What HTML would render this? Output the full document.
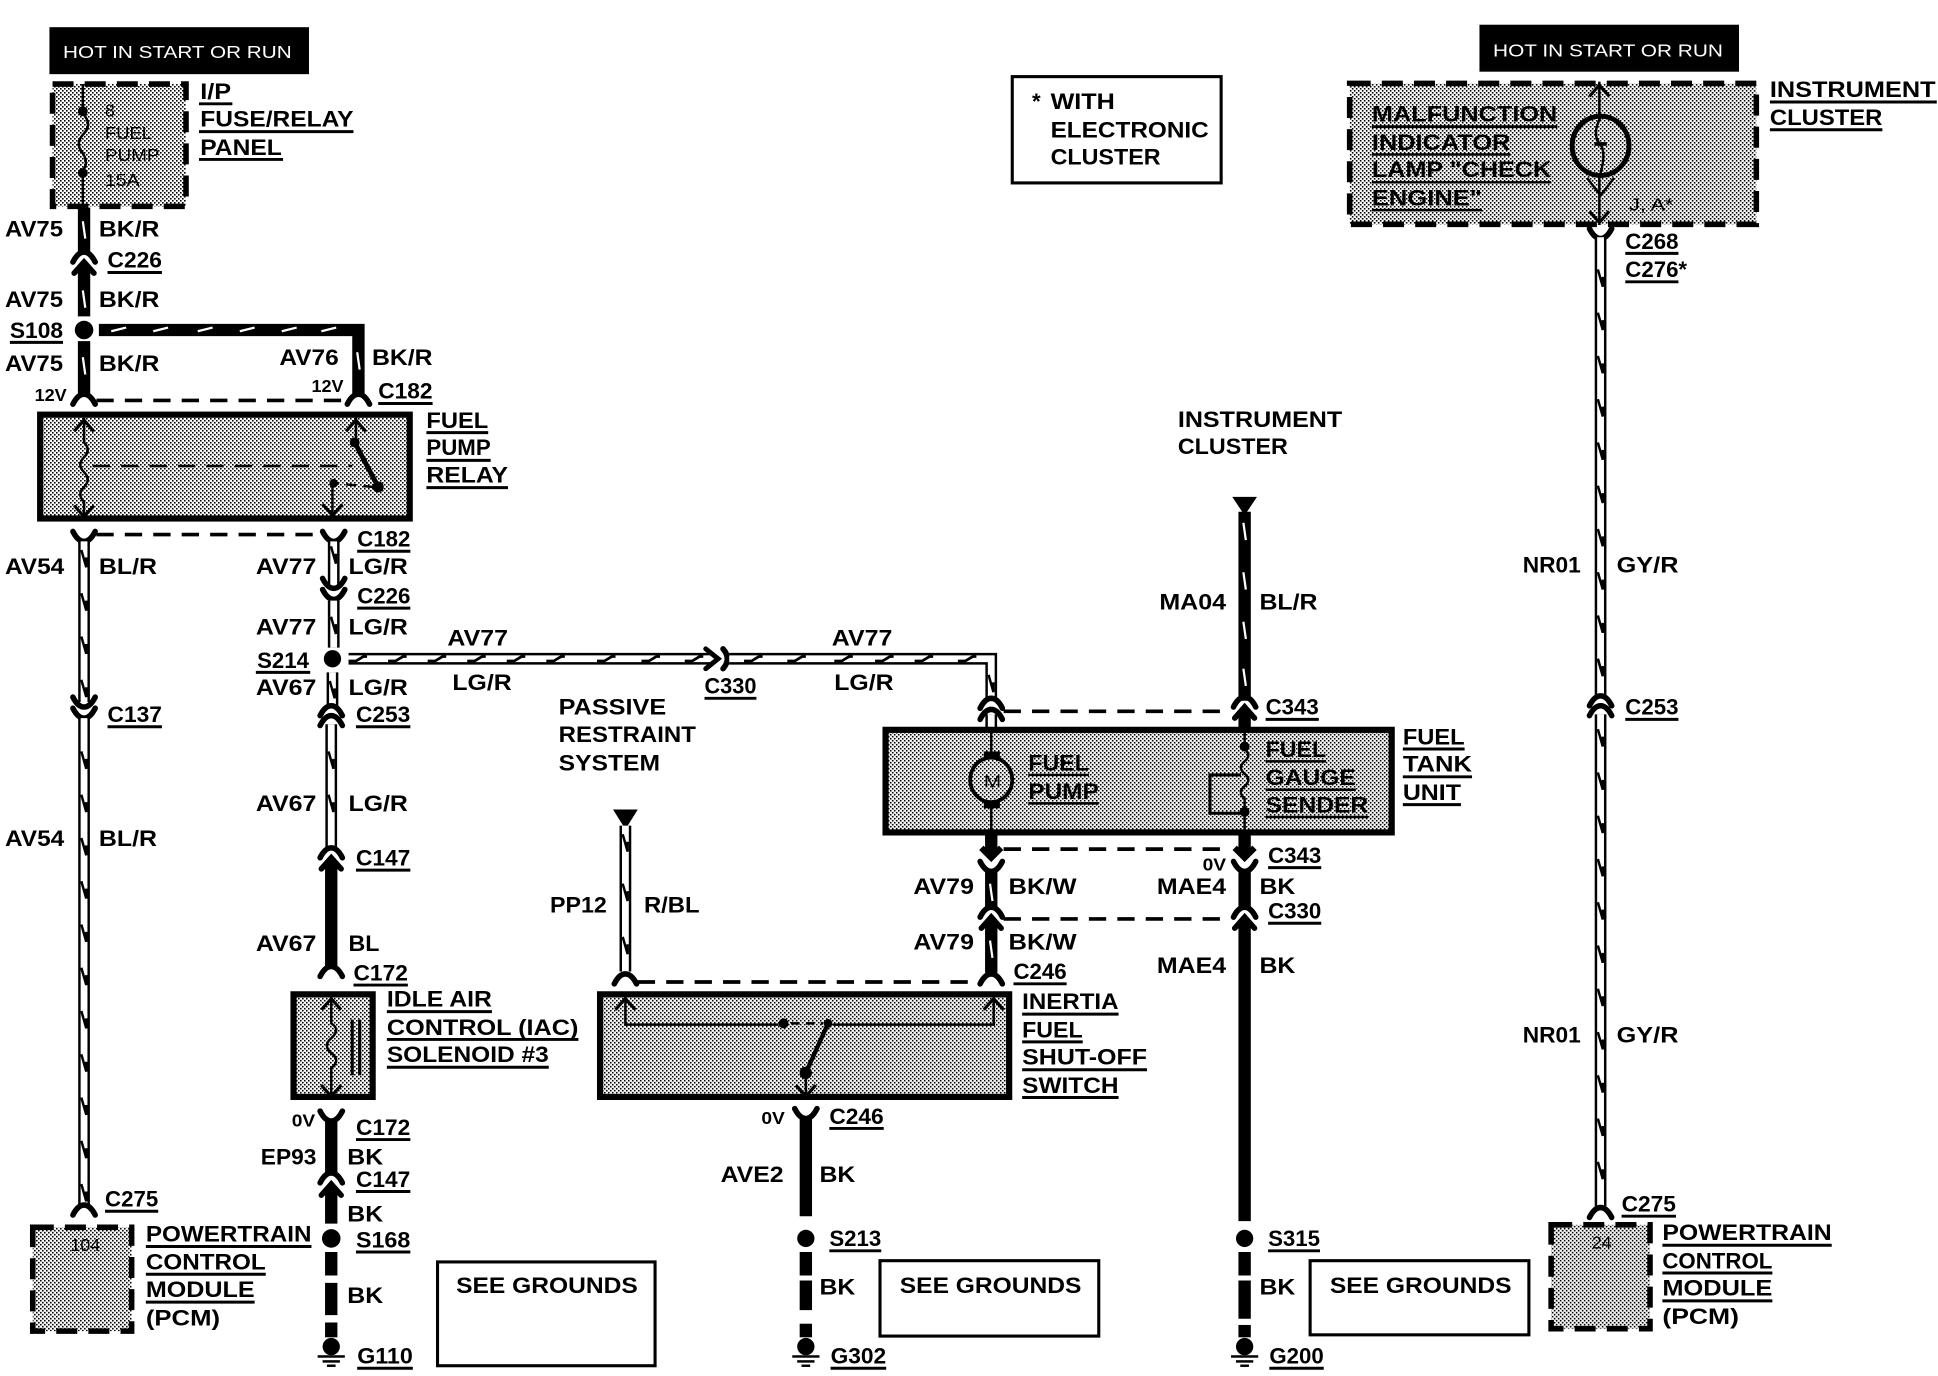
<!DOCTYPE html>
<html><head><meta charset="utf-8"><style>
html,body{margin:0;padding:0;background:#fff}
svg{display:block}
text{font-family:"Liberation Sans",sans-serif;font-weight:700;font-size:18px;fill:#000;transform:translateY(.3px)}
.s{font-size:14px}
.r{font-weight:400;font-size:14px}
.w{fill:#fff;font-weight:400;font-size:14px}
.u{stroke:#000;stroke-width:2.4}
.k{stroke:#000;stroke-width:10;fill:none}
.h1{stroke:#000;stroke-width:9.5;fill:none}
.h2{stroke:#fff;stroke-width:5.5;fill:none}
.d{stroke:#000;stroke-width:3;fill:none;stroke-dasharray:14 9}
.l{stroke:#000;stroke-width:2;fill:none}
.b{stroke:#000;stroke-width:5;fill:url(#st)}
.db{stroke:#000;stroke-width:4.5;fill:url(#st);stroke-dasharray:17 9}
</style></head><body>
<svg width="1938" height="1376" viewBox="0 0 1568 1113.3" xmlns="http://www.w3.org/2000/svg">
<defs>
<pattern id="st" width="3.236" height="3.236" patternUnits="userSpaceOnUse"><rect width="3.236" height="3.236" fill="#fff"/><rect width="1.3" height="1.3" fill="#000"/><rect x="1.618" y="1.618" width="1.3" height="1.3" fill="#000"/></pattern>
<path id="arch" d="M-9,5 Q-5,-3 0,-3 Q5,-3 9,5" fill="none" stroke="#000" stroke-width="4.5" stroke-linecap="round"/>
<path id="cup" d="M-9,-5 Q-5,3 0,3 Q5,3 9,-5" fill="none" stroke="#000" stroke-width="4.5" stroke-linecap="round"/>
<path id="head" d="M-8,6 L0,-3 L8,6" fill="none" stroke="#000" stroke-width="4.5" stroke-linecap="round"/>
<path id="vee" d="M-8,-5 L0,4 L8,-5" fill="none" stroke="#000" stroke-width="2.5"/>
<path id="up" d="M-8,5 L0,-4 L8,5" fill="none" stroke="#000" stroke-width="2.5"/>
<path id="tv" d="M-2.200,-7 L1.800,7 L1.800,-1" fill="none" stroke="#000" stroke-width="2"/>
<path id="th" d="M-7,1.800 H-1 L5,-1.800 H8" fill="none" stroke="#000" stroke-width="2.200"/>
<path id="wt" d="M-1,-7 L1,7" stroke="#fff" stroke-width="1.800"/>
<g id="tv5"><use href="#tv" y="0"/><use href="#tv" y="35"/><use href="#tv" y="70"/><use href="#tv" y="105"/><use href="#tv" y="140"/></g>
<g id="gnd"><circle cx="0" cy="-1.500" r="7"/><rect x="-3" y="-1" width="6" height="6"/><rect x="-11" y="5.500" width="22" height="2"/><rect x="-7" y="9.500" width="14" height="2"/><rect x="-3.500" y="13" width="7" height="2"/></g>
</defs>

<!-- Top-left power -->
<rect x="40" y="22" width="210" height="38"/>
<text class="w" x="51" y="46.500" textLength="185" lengthAdjust="spacingAndGlyphs">HOT IN START OR RUN</text>
<rect class="db" x="42.500" y="68" width="108" height="99"/>
<path class="l" d="M67,68V88M67,92Q75,100 68,108Q60,116 67,124Q72,132 67,138M67,142V168"/>
<circle cx="67" cy="90" r="4"/><circle cx="67" cy="140" r="4"/>
<text class="r" x="85" y="94" textLength="8" lengthAdjust="spacingAndGlyphs">8</text>
<text class="r" x="85" y="112" textLength="38" lengthAdjust="spacingAndGlyphs">FUEL</text>
<text class="r" x="85" y="130" textLength="44" lengthAdjust="spacingAndGlyphs">PUMP</text>
<text class="r" x="85" y="150" textLength="28" lengthAdjust="spacingAndGlyphs">15A</text>
<text x="162" y="80" textLength="25" lengthAdjust="spacingAndGlyphs">I/P</text><line class="u" x1="161" x2="188" y1="84" y2="84"/>
<text x="162" y="102" textLength="124" lengthAdjust="spacingAndGlyphs">FUSE/RELAY</text><line class="u" x1="161" x2="286" y1="106.500" y2="106.500"/>
<text x="162" y="125" textLength="66" lengthAdjust="spacingAndGlyphs">PANEL</text><line class="u" x1="161" x2="229" y1="129" y2="129"/>

<!-- Left wire x=68 -->
<line class="k" x1="68" x2="68" y1="168" y2="205"/><use href="#wt" x="68" y="186"/>
<use href="#arch" x="68" y="207"/><use href="#head" x="68" y="215"/>
<line class="k" x1="68" x2="68" y1="215" y2="256"/><use href="#wt" x="68" y="242"/>
<circle cx="68" cy="267" r="7.500"/>
<line class="k" x1="68" x2="68" y1="276" y2="320"/><use href="#wt" x="68" y="296"/>
<use href="#arch" x="68" y="322"/>
<path class="k" d="M80,267H290V320"/>
<path d="M90,268L102,265M124,268L136,265M160,268L172,265M194,268L206,265M228,268L240,265M260,268L272,265" stroke="#fff" stroke-width="1.800" fill="none"/>
<use href="#wt" x="290" y="292"/>
<use href="#arch" x="290" y="322"/>
<line class="d" x1="78" x2="280" y1="324" y2="324"/>

<!-- Relay -->
<rect class="b" x="32.500" y="335.500" width="299" height="84"/>
<path class="l" d="M68,338V358Q74,364 68,370Q62,376 68,382Q74,388 68,394Q62,400 68,406V418"/>
<use href="#up" x="68" y="344"/><use href="#vee" x="68" y="414"/>
<line class="l" x1="75" x2="285" y1="377" y2="377" stroke-dasharray="14 9"/>
<path class="l" d="M288,337V358"/><use href="#up" x="288" y="344"/>
<circle cx="287" cy="358" r="4"/><path d="M287,358L306,394" stroke="#000" stroke-width="4"/><circle cx="306" cy="394" r="4.500"/>
<line class="l" x1="302" x2="270" y1="394" y2="391" stroke-dasharray="8 6"/>
<circle cx="270" cy="391" r="3.500"/><line class="l" x1="269" x2="269" y1="391" y2="417"/><use href="#vee" x="269" y="413"/>
<text x="345" y="346" textLength="50" lengthAdjust="spacingAndGlyphs">FUEL</text><line class="u" x1="345" x2="395" y1="350" y2="350"/>
<text x="345" y="368" textLength="52" lengthAdjust="spacingAndGlyphs">PUMP</text><line class="u" x1="345" x2="397" y1="372.500" y2="372.500"/>
<text x="345" y="390" textLength="66" lengthAdjust="spacingAndGlyphs">RELAY</text><line class="u" x1="345" x2="411" y1="394.500" y2="394.500"/>

<!-- AV54 -->
<use href="#cup" x="68" y="435"/><use href="#cup" x="270" y="435"/>
<line class="d" x1="78" x2="260" y1="432.500" y2="432.500"/>
<line class="h1" x1="68" x2="68" y1="438" y2="568"/><line class="h2" x1="68" x2="68" y1="438" y2="568"/>
<use href="#tv" x="68" y="452"/><use href="#tv" x="68" y="487"/><use href="#tv" x="68" y="522"/><use href="#tv" x="68" y="557"/>
<use href="#cup" x="68" y="569"/><use href="#cup" x="68" y="578"/>
<line class="h1" x1="68" x2="68" y1="581" y2="975"/><line class="h2" x1="68" x2="68" y1="581" y2="975"/>
<use href="#tv5" x="68" y="615"/><use href="#tv5" x="68" y="790"/><use href="#tv" x="68" y="965"/>
<use href="#arch" x="68" y="978"/>

<!-- AV77 column -->
<line class="h1" x1="270" x2="270" y1="438" y2="474"/><line class="h2" x1="270" x2="270" y1="438" y2="474"/><use href="#tv" x="270" y="449"/>
<use href="#cup" x="270" y="473"/><use href="#cup" x="270" y="482"/>
<line class="h1" x1="270" x2="270" y1="486" y2="524"/><line class="h2" x1="270" x2="270" y1="486" y2="524"/><use href="#tv" x="270" y="506"/>
<circle cx="269" cy="533" r="7"/>
<line class="h1" x1="269" x2="269" y1="544" y2="572"/><line class="h2" x1="269" x2="269" y1="544" y2="572"/><use href="#tv" x="269" y="558"/>
<use href="#arch" x="268" y="574"/><use href="#arch" x="268" y="582"/>
<line class="h1" x1="268" x2="268" y1="586" y2="686"/><line class="h2" x1="268" x2="268" y1="586" y2="686"/><use href="#tv" x="268" y="615"/><use href="#tv" x="268" y="650"/>
<use href="#arch" x="268" y="689"/><use href="#head" x="268" y="697"/>
<line class="k" x1="268" x2="268" y1="697" y2="782"/>
<use href="#arch" x="268" y="785"/>

<!-- AV77 horizontal -->
<line class="h1" x1="282" x2="578" y1="533" y2="533"/><line class="h2" x1="282" x2="578" y1="533" y2="533"/>
<use href="#th" x="289" y="533"/><use href="#th" x="321" y="533"/><use href="#th" x="353" y="533"/><use href="#th" x="385" y="533"/><use href="#th" x="417" y="533"/><use href="#th" x="449" y="533"/><use href="#th" x="490" y="533"/><use href="#th" x="526" y="533"/><use href="#th" x="561" y="533"/>
<path d="M571,525L581,533L571,541" fill="none" stroke="#000" stroke-width="4" stroke-linecap="round"/>
<path d="M585,525Q592,533 585,541" fill="none" stroke="#000" stroke-width="4.500" stroke-linecap="round"/>
<path class="h1" d="M590,533H802V565"/><path class="h2" d="M590,533H802V565"/>
<use href="#th" x="609" y="533"/><use href="#th" x="644" y="533"/><use href="#th" x="682" y="533"/><use href="#th" x="715" y="533"/><use href="#th" x="747" y="533"/><use href="#th" x="782" y="533"/>
<use href="#tv" x="802" y="553"/>
<use href="#arch" x="802" y="568"/><use href="#arch" x="802" y="577"/>
<line class="h1" x1="802" x2="802" y1="578" y2="590"/><line class="h2" x1="802" x2="802" y1="578" y2="590"/>
<line class="d" x1="812" x2="996" y1="575.500" y2="575.500"/>

<!-- Fuel tank unit -->
<rect class="b" x="716.500" y="590.500" width="409.500" height="83"/>
<line class="l" x1="802" x2="802" y1="592" y2="673"/>
<ellipse cx="802" cy="631" rx="17" ry="18" fill="url(#st)" stroke="#000" stroke-width="3"/>
<rect x="796" y="608" width="13" height="6"/><rect x="796" y="648" width="13" height="6"/>
<text class="r" x="796" y="637" textLength="14" lengthAdjust="spacingAndGlyphs">M</text>
<text x="832" y="623" textLength="49" lengthAdjust="spacingAndGlyphs">FUEL</text><line class="l" x1="832" x2="881" y1="627" y2="627"/>
<text x="832" y="646" textLength="57" lengthAdjust="spacingAndGlyphs">PUMP</text><line class="l" x1="832" x2="889" y1="650" y2="650"/>
<text x="1024" y="612" textLength="49" lengthAdjust="spacingAndGlyphs">FUEL</text><line class="l" x1="1024" x2="1073" y1="616" y2="616"/>
<text x="1024" y="635" textLength="73" lengthAdjust="spacingAndGlyphs">GAUGE</text><line class="l" x1="1024" x2="1097" y1="639" y2="639"/>
<text x="1024" y="657" textLength="83" lengthAdjust="spacingAndGlyphs">SENDER</text><line class="l" x1="1024" x2="1107" y1="661" y2="661"/>
<path class="l" d="M1007,592V606Q1013,611 1007,616Q1001,621 1007,626Q1013,631 1007,636Q1001,641 1007,646V673"/>
<circle cx="1007" cy="604" r="4"/><circle cx="1007" cy="657" r="4"/>
<path d="M1004,627H979V658H1006" fill="none" stroke="#000" stroke-width="2.500"/>
<text x="1135" y="602" textLength="50" lengthAdjust="spacingAndGlyphs">FUEL</text><line class="u" x1="1135" x2="1185" y1="606" y2="606"/>
<text x="1135" y="624" textLength="56" lengthAdjust="spacingAndGlyphs">TANK</text><line class="u" x1="1135" x2="1191" y1="628.500" y2="628.500"/>
<text x="1135" y="647" textLength="47" lengthAdjust="spacingAndGlyphs">UNIT</text><line class="u" x1="1135" x2="1182" y1="651" y2="651"/>

<!-- AV79 -->
<line class="k" x1="802" x2="802" y1="675" y2="692"/>
<path d="M794,686L802,694L810,686" fill="none" stroke="#000" stroke-width="5"/>
<use href="#cup" x="802" y="702"/>
<line class="k" x1="802" x2="802" y1="704" y2="736" stroke-width="9"/><use href="#wt" x="802" y="722"/>
<use href="#arch" x="802" y="737"/><use href="#head" x="802" y="745"/>
<line class="k" x1="802" x2="802" y1="745" y2="787" stroke-width="9"/><use href="#wt" x="802" y="768"/>
<use href="#arch" x="802" y="791"/>
<line class="d" x1="812" x2="996" y1="687" y2="687"/>
<line class="d" x1="812" x2="996" y1="743.500" y2="743.500"/>
<line class="d" x1="516" x2="794" y1="794.500" y2="794.500"/>

<!-- x=1007 -->
<path d="M997,402H1017L1007,417Z"/>
<line class="k" x1="1007" x2="1007" y1="414" y2="567"/>
<use href="#wt" x="1007" y="430"/><use href="#wt" x="1007" y="470"/><use href="#wt" x="1007" y="510"/><use href="#wt" x="1007" y="548"/>
<use href="#arch" x="1007" y="567"/><use href="#head" x="1007" y="575"/>
<line class="k" x1="1007" x2="1007" y1="575" y2="590"/>
<line class="k" x1="1007" x2="1007" y1="675" y2="692"/>
<path d="M999,686L1007,694L1015,686" fill="none" stroke="#000" stroke-width="5"/>
<use href="#cup" x="1007" y="702"/>
<line class="k" x1="1007" x2="1007" y1="704" y2="736"/>
<use href="#arch" x="1007" y="737"/><use href="#head" x="1007" y="745"/>
<line class="k" x1="1007" x2="1007" y1="745" y2="988"/>
<circle cx="1007" cy="1002" r="7"/>
<line class="k" x1="1007" x2="1007" y1="1013" y2="1032"/>
<line class="k" x1="1007" x2="1007" y1="1036" y2="1067"/>
<line class="k" x1="1007" x2="1007" y1="1072" y2="1082"/>
<use href="#gnd" x="1007" y="1091"/>

<!-- PP12 -->
<path d="M496,655H516L506,671Z"/>
<line class="h1" x1="506" x2="506" y1="668" y2="786"/><line class="h2" x1="506" x2="506" y1="668" y2="786"/>
<use href="#tv" x="506" y="682"/><use href="#tv" x="506" y="722"/><use href="#tv" x="506" y="765"/>
<use href="#arch" x="506" y="791"/>

<!-- Inertia -->
<rect class="b" x="485.500" y="804.500" width="331" height="83"/>
<path class="l" d="M506,806V829H630M674,829H804V806"/>
<use href="#up" x="506" y="812"/><use href="#up" x="804" y="812"/>
<circle cx="634" cy="828" r="4"/><circle cx="670" cy="828" r="3.500"/>
<line class="l" x1="640" x2="666" y1="828" y2="828" stroke-dasharray="7 5"/>
<path d="M670,828L652,868" stroke="#000" stroke-width="3.500"/><circle cx="652" cy="868" r="5"/>
<line class="l" x1="652" x2="652" y1="868" y2="887"/><use href="#vee" x="652" y="883"/>
<text x="827" y="816" textLength="78" lengthAdjust="spacingAndGlyphs">INERTIA</text><line class="u" x1="827" x2="905" y1="820.500" y2="820.500"/>
<text x="827" y="839" textLength="49" lengthAdjust="spacingAndGlyphs">FUEL</text><line class="u" x1="827" x2="876" y1="843" y2="843"/>
<text x="827" y="861" textLength="101" lengthAdjust="spacingAndGlyphs">SHUT-OFF</text><line class="u" x1="827" x2="928" y1="865.500" y2="865.500"/>
<text x="827" y="884" textLength="78" lengthAdjust="spacingAndGlyphs">SWITCH</text><line class="u" x1="827" x2="905" y1="888" y2="888"/>

<!-- AVE2 -->
<use href="#cup" x="652" y="902"/>
<line class="k" x1="652" x2="652" y1="904" y2="984"/>
<circle cx="652" cy="1002" r="7"/>
<line class="k" x1="652" x2="652" y1="1013" y2="1032"/>
<line class="k" x1="652" x2="652" y1="1036" y2="1060"/>
<line class="k" x1="652" x2="652" y1="1071" y2="1082"/>
<use href="#gnd" x="652" y="1091"/>

<!-- IAC -->
<rect class="b" x="237.500" y="804.500" width="64" height="83"/>
<path class="l" d="M268,806V828Q276,833 268,840Q261,846 268,852Q276,858 268,864V887"/>
<use href="#up" x="268" y="812"/><use href="#vee" x="268" y="883"/>
<path d="M285,825V870M291,825V870" stroke="#000" stroke-width="2.500"/>
<text x="313" y="814" textLength="85" lengthAdjust="spacingAndGlyphs">IDLE AIR</text><line class="u" x1="313" x2="398" y1="818.500" y2="818.500"/>
<text x="313" y="837" textLength="155" lengthAdjust="spacingAndGlyphs">CONTROL (IAC)</text><line class="u" x1="313" x2="468" y1="841" y2="841"/>
<text x="313" y="859" textLength="131" lengthAdjust="spacingAndGlyphs">SOLENOID #3</text><line class="u" x1="313" x2="444" y1="863.500" y2="863.500"/>

<!-- x=268 lower -->
<use href="#cup" x="268" y="904"/>
<line class="k" x1="268" x2="268" y1="906" y2="950"/>
<use href="#arch" x="268" y="952"/><use href="#head" x="268" y="961"/>
<line class="k" x1="268" x2="268" y1="961" y2="990"/>
<circle cx="268" cy="1002" r="7.500"/>
<line class="k" x1="268" x2="268" y1="1013" y2="1032"/>
<line class="k" x1="268" x2="268" y1="1038" y2="1064"/>
<line class="k" x1="268" x2="268" y1="1070" y2="1082"/>
<use href="#gnd" x="268" y="1091"/>

<!-- Right column -->
<rect x="1197" y="20" width="210" height="38"/>
<text class="w" x="1208" y="45.500" textLength="186" lengthAdjust="spacingAndGlyphs">HOT IN START OR RUN</text>
<rect class="db" x="1092" y="67.500" width="329" height="114"/>
<line class="l" x1="1294" x2="1294" y1="66" y2="182"/>
<use href="#up" x="1294" y="73"/><use href="#vee" x="1294" y="176"/>
<ellipse cx="1295" cy="118" rx="23" ry="24" fill="url(#st)" stroke="#000" stroke-width="4"/>
<path d="M1295,95Q1288,108 1294,116Q1300,122 1295,140" fill="none" stroke="#000" stroke-width="2"/>
<rect x="1290" y="115" width="10" height="3"/>
<path d="M1284,144L1295,158L1306,144" fill="none" stroke="#000" stroke-width="2"/>
<text x="1110" y="98" textLength="150" lengthAdjust="spacingAndGlyphs">MALFUNCTION</text><line class="u" x1="1110" x2="1260" y1="102.500" y2="102.500"/>
<text x="1110" y="121" textLength="112" lengthAdjust="spacingAndGlyphs">INDICATOR</text><line class="l" x1="1110" x2="1222" y1="125" y2="125"/>
<text x="1110" y="143" textLength="145" lengthAdjust="spacingAndGlyphs">LAMP "CHECK</text><line class="l" x1="1110" x2="1255" y1="147.500" y2="147.500"/>
<text x="1110" y="166" textLength="89" lengthAdjust="spacingAndGlyphs">ENGINE"</text><line class="l" x1="1110" x2="1199" y1="170" y2="170"/>
<text class="r" x="1318" y="170" textLength="36" lengthAdjust="spacingAndGlyphs">J, A*</text>
<text x="1432" y="78" textLength="134" lengthAdjust="spacingAndGlyphs">INSTRUMENT</text><line class="u" x1="1432" x2="1567" y1="82.500" y2="82.500"/>
<text x="1432" y="101" textLength="91" lengthAdjust="spacingAndGlyphs">CLUSTER</text><line class="u" x1="1432" x2="1523" y1="105" y2="105"/>
<use href="#cup" x="1295" y="190"/>
<line class="h1" x1="1295" x2="1295" y1="192" y2="563"/><line class="h2" x1="1295" x2="1295" y1="192" y2="563"/>
<use href="#tv5" x="1295" y="225"/><use href="#tv5" x="1295" y="400"/><use href="#tv" x="1295" y="540"/>
<use href="#arch" x="1295" y="566"/><use href="#arch" x="1295" y="574"/>
<line class="h1" x1="1295" x2="1295" y1="578" y2="976"/><line class="h2" x1="1295" x2="1295" y1="578" y2="976"/>
<use href="#tv5" x="1295" y="597"/><use href="#tv5" x="1295" y="772"/><use href="#tv" x="1295" y="947"/>
<use href="#arch" x="1295" y="980"/>

<!-- PCM boxes -->
<rect class="db" x="26.500" y="993" width="80" height="84" stroke-dasharray="14 9"/>
<text class="r" x="57" y="1012" textLength="24" lengthAdjust="spacingAndGlyphs">104</text>
<text x="118" y="1004" textLength="134" lengthAdjust="spacingAndGlyphs">POWERTRAIN</text><line class="u" x1="118" x2="252" y1="1008.500" y2="1008.500"/>
<text x="118" y="1027" textLength="97" lengthAdjust="spacingAndGlyphs">CONTROL</text><line class="u" x1="118" x2="215" y1="1031" y2="1031"/>
<text x="118" y="1049" textLength="88" lengthAdjust="spacingAndGlyphs">MODULE</text><line class="u" x1="118" x2="206" y1="1053.500" y2="1053.500"/>
<text x="118" y="1072" textLength="60" lengthAdjust="spacingAndGlyphs">(PCM)</text>
<rect class="db" x="1255" y="991" width="80" height="84" stroke-dasharray="14 9"/>
<text class="r" x="1288" y="1010" textLength="16" lengthAdjust="spacingAndGlyphs">24</text>
<text x="1345" y="1003" textLength="137" lengthAdjust="spacingAndGlyphs">POWERTRAIN</text><line class="u" x1="1345" x2="1482" y1="1007.500" y2="1007.500"/>
<text x="1345" y="1026" textLength="89" lengthAdjust="spacingAndGlyphs">CONTROL</text><line class="u" x1="1345" x2="1434" y1="1030" y2="1030"/>
<text x="1345" y="1048" textLength="89" lengthAdjust="spacingAndGlyphs">MODULE</text><line class="u" x1="1345" x2="1434" y1="1052.500" y2="1052.500"/>
<text x="1345" y="1071" textLength="62" lengthAdjust="spacingAndGlyphs">(PCM)</text>

<!-- Note -->
<rect x="819" y="62" width="169" height="86" fill="none" stroke="#000" stroke-width="2.500"/>
<text x="835" y="88">*</text>
<text x="850" y="88" textLength="52" lengthAdjust="spacingAndGlyphs">WITH</text>
<text x="850" y="111" textLength="128" lengthAdjust="spacingAndGlyphs">ELECTRONIC</text>
<text x="850" y="133" textLength="89" lengthAdjust="spacingAndGlyphs">CLUSTER</text>

<!-- See grounds -->
<rect x="354" y="1021" width="176" height="84" fill="none" stroke="#000" stroke-width="2.500"/>
<text x="369" y="1046" textLength="147" lengthAdjust="spacingAndGlyphs">SEE GROUNDS</text>
<rect x="712" y="1020" width="177" height="61" fill="none" stroke="#000" stroke-width="2.500"/>
<text x="728" y="1046" textLength="147" lengthAdjust="spacingAndGlyphs">SEE GROUNDS</text>
<rect x="1060" y="1020" width="177" height="60" fill="none" stroke="#000" stroke-width="2.500"/>
<text x="1076" y="1046" textLength="147" lengthAdjust="spacingAndGlyphs">SEE GROUNDS</text>

<!-- Labels -->
<text x="4" y="191" textLength="47" lengthAdjust="spacingAndGlyphs">AV75</text><text x="80" y="191" textLength="49" lengthAdjust="spacingAndGlyphs">BK/R</text>
<text x="87" y="216" textLength="44" lengthAdjust="spacingAndGlyphs">C226</text><line class="u" x1="87" x2="131" y1="220.500" y2="220.500"/>
<text x="4" y="248" textLength="47" lengthAdjust="spacingAndGlyphs">AV75</text><text x="80" y="248" textLength="49" lengthAdjust="spacingAndGlyphs">BK/R</text>
<text x="8" y="273" textLength="43" lengthAdjust="spacingAndGlyphs">S108</text><line class="u" x1="8" x2="51" y1="277" y2="277"/>
<text x="4" y="300" textLength="47" lengthAdjust="spacingAndGlyphs">AV75</text><text x="80" y="300" textLength="49" lengthAdjust="spacingAndGlyphs">BK/R</text>
<text x="226" y="295" textLength="48" lengthAdjust="spacingAndGlyphs">AV76</text><text x="301" y="295" textLength="49" lengthAdjust="spacingAndGlyphs">BK/R</text>
<text class="s" x="28" y="324" textLength="26" lengthAdjust="spacingAndGlyphs">12V</text>
<text class="s" x="252" y="317" textLength="26" lengthAdjust="spacingAndGlyphs">12V</text>
<text x="306" y="322" textLength="44" lengthAdjust="spacingAndGlyphs">C182</text><line class="u" x1="306" x2="350" y1="326.500" y2="326.500"/>
<text x="289" y="442" textLength="43" lengthAdjust="spacingAndGlyphs">C182</text><line class="u" x1="289" x2="332" y1="446" y2="446"/>
<text x="4" y="464" textLength="48" lengthAdjust="spacingAndGlyphs">AV54</text><text x="80" y="464" textLength="47" lengthAdjust="spacingAndGlyphs">BL/R</text>
<text x="207" y="464" textLength="49" lengthAdjust="spacingAndGlyphs">AV77</text><text x="282" y="464" textLength="48" lengthAdjust="spacingAndGlyphs">LG/R</text>
<text x="289" y="488" textLength="43" lengthAdjust="spacingAndGlyphs">C226</text><line class="u" x1="289" x2="332" y1="492" y2="492"/>
<text x="207" y="513" textLength="49" lengthAdjust="spacingAndGlyphs">AV77</text><text x="282" y="513" textLength="48" lengthAdjust="spacingAndGlyphs">LG/R</text>
<text x="208" y="540" textLength="42" lengthAdjust="spacingAndGlyphs">S214</text><line class="u" x1="207" x2="251" y1="544" y2="544"/>
<text x="207" y="562" textLength="49" lengthAdjust="spacingAndGlyphs">AV67</text><text x="282" y="562" textLength="48" lengthAdjust="spacingAndGlyphs">LG/R</text>
<text x="288" y="584" textLength="44" lengthAdjust="spacingAndGlyphs">C253</text><line class="u" x1="288" x2="332" y1="588" y2="588"/>
<text x="87" y="584" textLength="44" lengthAdjust="spacingAndGlyphs">C137</text><line class="u" x1="87" x2="131" y1="588" y2="588"/>
<text x="4" y="684" textLength="48" lengthAdjust="spacingAndGlyphs">AV54</text><text x="80" y="684" textLength="47" lengthAdjust="spacingAndGlyphs">BL/R</text>
<text x="207" y="656" textLength="49" lengthAdjust="spacingAndGlyphs">AV67</text><text x="282" y="656" textLength="48" lengthAdjust="spacingAndGlyphs">LG/R</text>
<text x="288" y="700" textLength="44" lengthAdjust="spacingAndGlyphs">C147</text><line class="u" x1="288" x2="332" y1="704" y2="704"/>
<text x="207" y="769" textLength="49" lengthAdjust="spacingAndGlyphs">AV67</text><text x="282" y="769" textLength="25" lengthAdjust="spacingAndGlyphs">BL</text>
<text x="286" y="793" textLength="44" lengthAdjust="spacingAndGlyphs">C172</text><line class="u" x1="286" x2="330" y1="797" y2="797"/>
<text class="s" x="236" y="911" textLength="19" lengthAdjust="spacingAndGlyphs">0V</text>
<text x="288" y="918" textLength="44" lengthAdjust="spacingAndGlyphs">C172</text><line class="u" x1="288" x2="332" y1="922" y2="922"/>
<text x="211" y="942" textLength="45" lengthAdjust="spacingAndGlyphs">EP93</text><text x="281" y="942" textLength="29" lengthAdjust="spacingAndGlyphs">BK</text>
<text x="288" y="960" textLength="44" lengthAdjust="spacingAndGlyphs">C147</text><line class="u" x1="288" x2="332" y1="964" y2="964"/>
<text x="281" y="988" textLength="29" lengthAdjust="spacingAndGlyphs">BK</text>
<text x="288" y="1009" textLength="44" lengthAdjust="spacingAndGlyphs">S168</text><line class="u" x1="288" x2="332" y1="1013" y2="1013"/>
<text x="281" y="1054" textLength="29" lengthAdjust="spacingAndGlyphs">BK</text>
<text x="289" y="1103" textLength="45" lengthAdjust="spacingAndGlyphs">G110</text><line class="u" x1="289" x2="334" y1="1107" y2="1107"/>
<text x="85" y="976" textLength="43" lengthAdjust="spacingAndGlyphs">C275</text><line class="u" x1="85" x2="128" y1="980" y2="980"/>
<text x="583" y="956" textLength="51" lengthAdjust="spacingAndGlyphs">AVE2</text><text x="663" y="956" textLength="29" lengthAdjust="spacingAndGlyphs">BK</text>
<text class="s" x="616" y="909" textLength="19" lengthAdjust="spacingAndGlyphs">0V</text>
<text x="671" y="909" textLength="44" lengthAdjust="spacingAndGlyphs">C246</text><line class="u" x1="671" x2="715" y1="913" y2="913"/>
<text x="671" y="1008" textLength="42" lengthAdjust="spacingAndGlyphs">S213</text><line class="u" x1="671" x2="713" y1="1012" y2="1012"/>
<text x="663" y="1047" textLength="29" lengthAdjust="spacingAndGlyphs">BK</text>
<text x="672" y="1103" textLength="45" lengthAdjust="spacingAndGlyphs">G302</text><line class="u" x1="672" x2="717" y1="1107" y2="1107"/>
<text x="362" y="522" textLength="49" lengthAdjust="spacingAndGlyphs">AV77</text><text x="366" y="558" textLength="48" lengthAdjust="spacingAndGlyphs">LG/R</text>
<text x="570" y="561" textLength="42" lengthAdjust="spacingAndGlyphs">C330</text><line class="u" x1="570" x2="612" y1="565" y2="565"/>
<text x="673" y="522" textLength="49" lengthAdjust="spacingAndGlyphs">AV77</text><text x="675" y="558" textLength="48" lengthAdjust="spacingAndGlyphs">LG/R</text>
<text x="452" y="578" textLength="87" lengthAdjust="spacingAndGlyphs">PASSIVE</text>
<text x="452" y="600" textLength="111" lengthAdjust="spacingAndGlyphs">RESTRAINT</text>
<text x="452" y="623" textLength="82" lengthAdjust="spacingAndGlyphs">SYSTEM</text>
<text x="445" y="738" textLength="46" lengthAdjust="spacingAndGlyphs">PP12</text><text x="521" y="738" textLength="45" lengthAdjust="spacingAndGlyphs">R/BL</text>
<text x="820" y="792" textLength="43" lengthAdjust="spacingAndGlyphs">C246</text><line class="u" x1="820" x2="863" y1="796" y2="796"/>
<text x="739" y="723" textLength="49" lengthAdjust="spacingAndGlyphs">AV79</text><text x="816" y="723" textLength="55" lengthAdjust="spacingAndGlyphs">BK/W</text>
<text x="739" y="768" textLength="49" lengthAdjust="spacingAndGlyphs">AV79</text><text x="816" y="768" textLength="55" lengthAdjust="spacingAndGlyphs">BK/W</text>
<text x="936" y="723" textLength="56" lengthAdjust="spacingAndGlyphs">MAE4</text><text x="1019" y="723" textLength="29" lengthAdjust="spacingAndGlyphs">BK</text>
<text class="s" x="973" y="704" textLength="19" lengthAdjust="spacingAndGlyphs">0V</text>
<text x="1026" y="698" textLength="43" lengthAdjust="spacingAndGlyphs">C343</text><line class="u" x1="1026" x2="1069" y1="702" y2="702"/>
<text x="1026" y="743" textLength="43" lengthAdjust="spacingAndGlyphs">C330</text><line class="u" x1="1026" x2="1069" y1="747" y2="747"/>
<text x="936" y="787" textLength="56" lengthAdjust="spacingAndGlyphs">MAE4</text><text x="1019" y="787" textLength="29" lengthAdjust="spacingAndGlyphs">BK</text>
<text x="1024" y="578" textLength="43" lengthAdjust="spacingAndGlyphs">C343</text><line class="u" x1="1024" x2="1067" y1="582" y2="582"/>
<text x="938" y="493" textLength="54" lengthAdjust="spacingAndGlyphs">MA04</text><text x="1019" y="493" textLength="47" lengthAdjust="spacingAndGlyphs">BL/R</text>
<text x="953" y="345" textLength="133" lengthAdjust="spacingAndGlyphs">INSTRUMENT</text>
<text x="953" y="367" textLength="89" lengthAdjust="spacingAndGlyphs">CLUSTER</text>
<text x="1026" y="1008" textLength="42" lengthAdjust="spacingAndGlyphs">S315</text><line class="u" x1="1026" x2="1068" y1="1012" y2="1012"/>
<text x="1019" y="1047" textLength="29" lengthAdjust="spacingAndGlyphs">BK</text>
<text x="1027" y="1103" textLength="44" lengthAdjust="spacingAndGlyphs">G200</text><line class="u" x1="1027" x2="1071" y1="1107" y2="1107"/>
<text x="1232" y="463" textLength="47" lengthAdjust="spacingAndGlyphs">NR01</text><text x="1308" y="463" textLength="50" lengthAdjust="spacingAndGlyphs">GY/R</text>
<text x="1232" y="843" textLength="47" lengthAdjust="spacingAndGlyphs">NR01</text><text x="1308" y="843" textLength="50" lengthAdjust="spacingAndGlyphs">GY/R</text>
<text x="1315" y="201" textLength="43" lengthAdjust="spacingAndGlyphs">C268</text><line class="u" x1="1315" x2="1358" y1="205" y2="205"/>
<text x="1315" y="224" textLength="50" lengthAdjust="spacingAndGlyphs">C276*</text><line class="u" x1="1315" x2="1358" y1="228" y2="228"/>
<text x="1315" y="578" textLength="43" lengthAdjust="spacingAndGlyphs">C253</text><line class="u" x1="1315" x2="1358" y1="582" y2="582"/>
<text x="1312" y="980" textLength="44" lengthAdjust="spacingAndGlyphs">C275</text><line class="u" x1="1312" x2="1356" y1="984" y2="984"/>
</svg>
</body></html>
